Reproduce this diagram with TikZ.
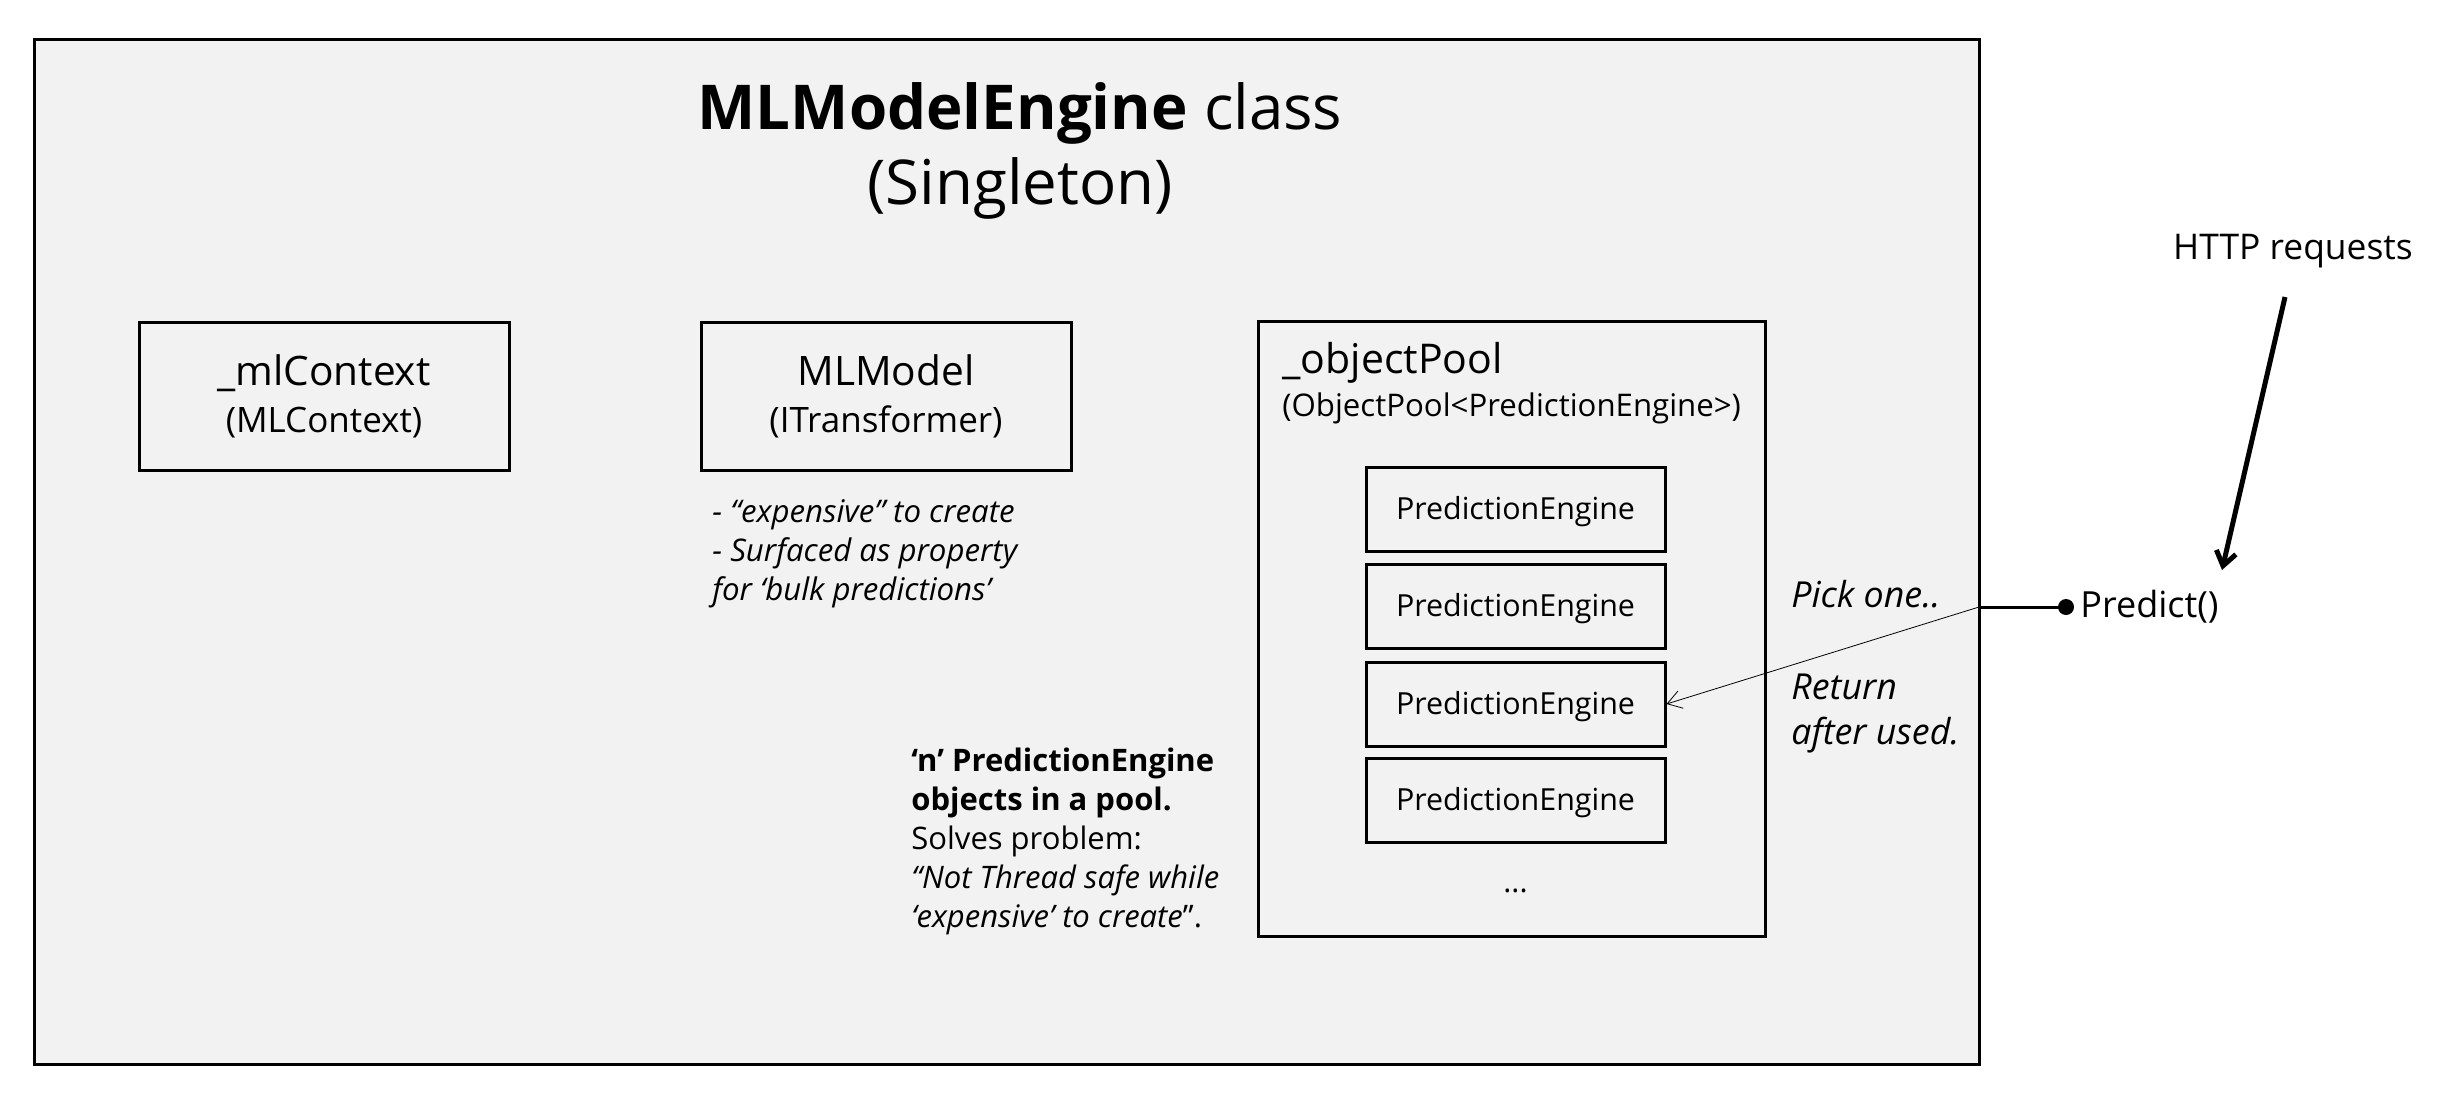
\documentclass[tikz,border=0pt]{standalone}
\usepackage{fontspec}
\setmainfont{Open Sans}
\usetikzlibrary{arrows.meta}
\definecolor{panel}{HTML}{F2F2F2}

\begin{document}
\begin{tikzpicture}[x=0.5pt,y=-0.5pt,
  box/.style={draw,line width=1.5pt,align=center,font=\fontsize{17.5}{23.5}\selectfont},
  engine/.style={draw,line width=1.5pt,minimum width=149.5pt,minimum height=42pt,text height=1.1em,text depth=0.06em,font=\fontsize{15.2}{18}\selectfont},
  note/.style={anchor=north west,align=left,inner sep=0pt,font=\fontsize{15.5}{19.5}\selectfont}]
\useasboundingbox (0,0) rectangle (2442,1114);
\node[draw,line width=1.5pt,fill=panel,minimum width=972.5pt,minimum height=512.5pt] (frame) at (1006.5,551.5) {};
\node[align=center,font=\fontsize{30.9}{37.5}\selectfont] (title) at (1020,151) {\textbf{MLModelEngine} class\\(Singleton)};
\node[box,minimum width=185pt,minimum height=74pt] (ctx) at (324,396) {{\fontsize{20.3}{23.5}\selectfont \_mlContext}\\(MLContext)};
\node[box,minimum width=185pt,minimum height=74pt] (model) at (886,396) {{\fontsize{20.3}{23.5}\selectfont MLModel}\\(ITransformer)};
\node[note,font=\fontsize{15.6}{19.5}\selectfont\itshape] (modelnote) at (712,499) {- “expensive” to create\\- Surfaced as property\\for ‘bulk predictions’};
\node[box,minimum width=253.5pt,minimum height=307.5pt] (pool) at (1511.5,628.5) {};
\node[anchor=north west,align=left,inner sep=0pt,font=\fontsize{15.6}{21.5}\selectfont] (poolname) at (1282,342) {{\fontsize{20.5}{21.5}\selectfont \_objectPool}\\(ObjectPool<PredictionEngine>)};
\node[engine] (pe1) at (1515.5,509) {PredictionEngine};
\node[engine] (pe2) at (1515.5,606.5) {PredictionEngine};
\node[engine] (pe3) at (1515.5,704) {PredictionEngine};
\node[engine] (pe4) at (1515.5,800.5) {PredictionEngine};
\node[font=\fontsize{15.2}{18}\selectfont] (more) at (1515.5,891) {...};
\node[note] (poolnote) at (911,748) {\textbf{‘n’ PredictionEngine}\\\textbf{objects in a pool.}\\Solves problem:\\\textit{“Not Thread safe while}\\\textit{‘expensive’ to create}”.};
\node[note,font=\fontsize{17.9}{22.5}\selectfont\itshape] (pickone) at (1791,580) {Pick one..};
\node[note,font=\fontsize{17.9}{22.5}\selectfont\itshape] (giveback) at (1791,674) {Return\\after used.};
\node[anchor=west,font=\fontsize{18}{20}\selectfont,inner sep=0pt] (predict) at (2080,607) {Predict()};
\node[font=\fontsize{17.7}{20}\selectfont] (http) at (2293,251) {HTTP requests};
\coordinate (dot) at (2066,607);
\coordinate (edge) at (1979,607);
\coordinate (from) at (2285,297);
\coordinate (hit) at (2222,570);
\fill (dot) circle[radius=4pt];
\draw[line width=1.5pt] (dot) -- (edge);
\draw[line width=0.4pt,-{Straight Barb[length=7pt,width=9pt]}] (edge) -- (pe3.east);
\draw[line width=2.5pt,-{Straight Barb[length=7pt,width=10pt]}] (from) -- (hit);
\end{tikzpicture}
\end{document}
